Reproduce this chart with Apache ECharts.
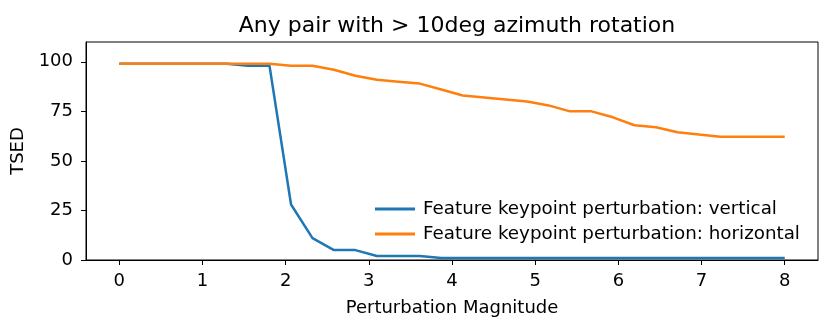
<!DOCTYPE html>
<html>
<head>
<meta charset="utf-8">
<script src="https://cdn.jsdelivr.net/npm/echarts@6/dist/echarts.min.js"></script>
<style>
  html, body { margin: 0; padding: 0; background: #fff; }
  #chart { width: 831px; height: 329px; }
</style>
</head>
<body>
<div id="chart"></div>
<script>
// 扰动幅度（x）与两条曲线
var magnitude = [0, 0.258, 0.516, 0.774, 1.032, 1.290, 1.548, 1.806, 2.065, 2.323, 2.581,
  2.839, 3.097, 3.355, 3.613, 3.871, 4.129, 4.387, 4.645, 4.903, 5.161, 5.419, 5.677,
  5.935, 6.194, 6.452, 6.710, 6.968, 7.226, 7.484, 7.742, 8];
var vertical = [99, 99, 99, 99, 99, 99, 98, 98, 28, 11, 5, 5, 2, 2, 2, 1, 1, 1, 1, 1,
  1, 1, 1, 1, 1, 1, 1, 1, 1, 1, 1, 1];
var horizontal = [99, 99, 99, 99, 99, 99, 99, 99, 98, 98, 96, 93, 91, 90, 89, 86, 83,
  82, 81, 80, 78, 75, 75, 72, 68, 67, 64.5, 63.3, 62.2, 62.2, 62.2, 62.2];
var xTicks = [0, 1, 2, 3, 4, 5, 6, 7, 8];
var yTicks = [0, 25, 50, 75, 100];
var names = ['Feature keypoint perturbation: vertical', 'Feature keypoint perturbation: horizontal'];

function pairs(ys) {
  return ys.map(function (y, i) { return [magnitude[i], y]; });
}

var font = 'DejaVu Sans';
var myChart = echarts.init(document.getElementById('chart'));

option = {
  animation: false,
  textStyle: { fontFamily: font },
  title: {
    text: 'Any pair with > 10deg azimuth rotation',
    left: 452, top: 10, textAlign: 'center',
    textStyle: { fontFamily: font, fontSize: 22, fontWeight: 'normal', color: '#000' }
  },
  grid: {
    left: 86, right: 13, top: 42, bottom: 69,
    show: true, borderColor: '#000', borderWidth: 1
  },
  legend: {
    orient: 'vertical', left: 370, top: 195,
    itemWidth: 40, itemHeight: 3, itemGap: 7, icon: 'rect',
    textStyle: { fontFamily: font, fontSize: 18.3, color: '#000', padding: [0, 0, 0, 3] },
    data: names
  },
  xAxis: {
    type: 'value', min: -0.4, max: 8.4,
    name: 'Perturbation Magnitude', nameLocation: 'middle', nameGap: 39,
    nameTextStyle: { fontFamily: font, fontSize: 18, color: '#000' },
    axisLine: { show: true, onZero: false, lineStyle: { color: '#000' } },
    axisTick: { show: true, length: 5, customValues: xTicks, lineStyle: { color: '#000' } },
    axisLabel: { customValues: xTicks, fontSize: 18, color: '#000', margin: 12 },
    splitLine: { show: false }
  },
  yAxis: {
    type: 'value', min: 0, max: 110,
    name: 'TSED', nameLocation: 'middle', nameGap: 54,
    nameTextStyle: { fontFamily: font, fontSize: 18, color: '#000' },
    axisLine: { show: true, onZero: false, lineStyle: { color: '#000' } },
    axisTick: { show: true, length: 5, customValues: yTicks, lineStyle: { color: '#000' } },
    axisLabel: { customValues: yTicks, fontSize: 18, color: '#000', margin: 13 },
    splitLine: { show: false }
  },
  series: [
    {
      name: names[0], type: 'line', data: pairs(vertical),
      showSymbol: false, color: '#1f77b4', lineStyle: { width: 2.5 }
    },
    {
      name: names[1], type: 'line', data: pairs(horizontal),
      showSymbol: false, color: '#ff7f0e', lineStyle: { width: 2.5 }
    }
  ]
};

myChart.setOption(option);
</script>
</body>
</html>
